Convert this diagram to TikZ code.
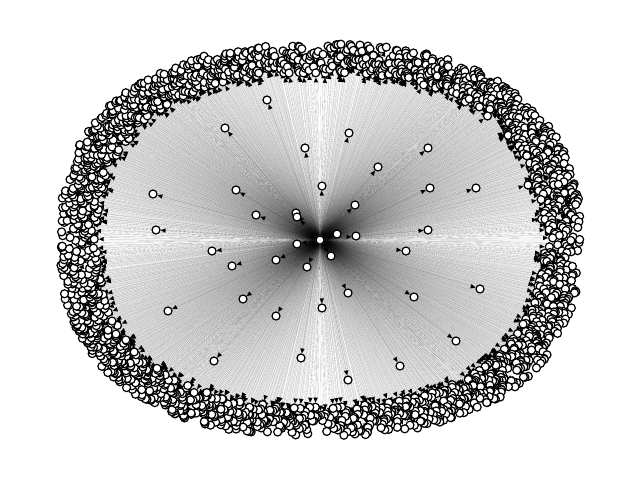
\documentclass[tikz,border=0pt]{standalone}
\usetikzlibrary{arrows.meta,backgrounds}

\begin{document}
\begin{tikzpicture}[x=1pt,y=-1pt,>={Triangle[length=5pt,width=4.5pt,color=black]},
 vert/.style={circle,draw=black,fill=white,line width=1.2pt,minimum size=8pt,inner sep=0pt},
 link/.style={->,draw=black,draw opacity=0.32,line width=0.1pt}]
\useasboundingbox (0,0) rectangle (640,480);
\pgfmathsetseed{11}
\node[vert](hub) at (320,240){};
\foreach \p [count=\k] in {(267,100),(225,128),(349,133),(305,148),(428,148),(378,167),(322,186),
 (476,188),(430,188),(236,190),(528,185),(153,194),(355,205),(296,213),(297,217),(256,215),
 (156,230),(428,230),(337,234),(356,236),(297,244),(406,251),(212,251),(331,256),(276,260),
 (307,267),(232,266),(480,289),(348,293),(243,299),(414,297),(322,308),(168,311),(276,316),
 (456,341),(301,358),(214,361),(400,366),(348,380)}
 \node[vert](m\k) at \p {};
\foreach \k in {1,...,2000}{
 \pgfmathsetmacro{\t}{(\k+rnd)*0.18}
 \pgfmathsetmacro{\s}{sqrt(0.7225+0.2775*rnd)}
 \pgfmathsetmacro{\cx}{sign(cos(\t))*max(abs(cos(\t)),0.0001)^0.833}
 \pgfmathsetmacro{\cy}{sign(sin(\t))*max(abs(sin(\t)),0.0001)^0.833}
 \node[vert](o\k) at (320+\s*261*\cx,240+\s*196*\cy){};
}
\begin{pgfonlayer}{background}
\foreach \k in {1,...,39} \draw[link](hub)--(m\k);
\foreach \k in {1,...,2000} \draw[link](hub)--(o\k);
\end{pgfonlayer}
\end{tikzpicture}
\end{document}
